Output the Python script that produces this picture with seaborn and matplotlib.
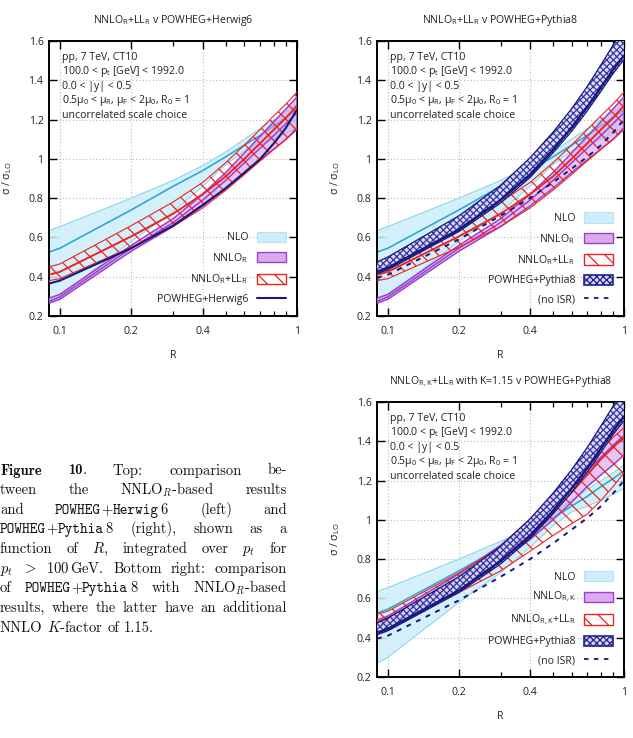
import matplotlib
matplotlib.use("Agg")
import matplotlib.pyplot as plt
import seaborn as sns
from matplotlib.patches import Patch
from matplotlib.lines import Line2D
from matplotlib.ticker import FixedLocator, FixedFormatter, NullFormatter

# --- data ---
R = [0.09, 0.1, 0.2, 0.3, 0.4, 0.5, 0.6, 0.7, 0.8, 0.9, 1.0]

nlo_lo = [0.27, 0.30, 0.58, 0.73, 0.86, 0.97, 1.04, 1.07, 1.10, 1.13, 1.16]
nlo_mid = [0.525, 0.545, 0.74, 0.86, 0.94, 1.01, 1.07, 1.12, 1.17, 1.21, 1.25]
nlo_hi = [0.635, 0.655, 0.80, 0.89, 0.965, 1.035, 1.10, 1.155, 1.20, 1.24, 1.28]

nnlo_lo = [0.265, 0.285, 0.53, 0.655, 0.76, 0.85, 0.93, 0.995, 1.05, 1.10, 1.15]
nnlo_mid = [0.275, 0.297, 0.545, 0.675, 0.79, 0.89, 0.98, 1.055, 1.12, 1.18, 1.235]
nnlo_hi = [0.29, 0.31, 0.56, 0.695, 0.82, 0.93, 1.03, 1.115, 1.19, 1.255, 1.315]

ll_lo = [0.38, 0.39, 0.55, 0.655, 0.75, 0.84, 0.92, 0.99, 1.05, 1.10, 1.16]
ll_mid = [0.41, 0.425, 0.605, 0.72, 0.82, 0.91, 1.00, 1.08, 1.15, 1.21, 1.27]
ll_hi = [0.45, 0.465, 0.66, 0.78, 0.88, 0.98, 1.07, 1.15, 1.22, 1.28, 1.34]

herwig = [0.365, 0.38, 0.545, 0.66, 0.765, 0.85, 0.93, 1.00, 1.08, 1.16, 1.25]

py_lo = [0.415, 0.435, 0.63, 0.775, 0.905, 1.03, 1.14, 1.245, 1.345, 1.435, 1.505]
py_mid = [0.425, 0.445, 0.64, 0.79, 0.92, 1.045, 1.16, 1.265, 1.365, 1.455, 1.525]
py_hi = [0.475, 0.50, 0.71, 0.865, 1.005, 1.135, 1.255, 1.37, 1.48, 1.58, 1.67]
no_isr = [0.395, 0.41, 0.59, 0.71, 0.80, 0.88, 0.95, 1.01, 1.07, 1.135, 1.20]

nnlok_lo = [0.455, 0.47, 0.655, 0.79, 0.90, 1.00, 1.09, 1.17, 1.23, 1.28, 1.33]
nnlok_mid = [0.47, 0.49, 0.69, 0.83, 0.95, 1.06, 1.16, 1.25, 1.32, 1.38, 1.43]
nnlok_hi = [0.49, 0.51, 0.725, 0.87, 1.00, 1.12, 1.23, 1.32, 1.40, 1.47, 1.53]

llk_lo = [0.455, 0.47, 0.63, 0.74, 0.84, 0.92, 0.98, 1.03, 1.10, 1.17, 1.24]
llk_mid = [0.48, 0.50, 0.69, 0.81, 0.93, 1.04, 1.14, 1.23, 1.31, 1.37, 1.42]
llk_hi = [0.52, 0.535, 0.73, 0.86, 0.98, 1.09, 1.19, 1.28, 1.36, 1.42, 1.47]

XTICKS = [0.1, 0.2, 0.4, 1.0]
XTICKLABELS = ["0.1", "0.2", "0.4", "1"]
XMINOR = [0.3, 0.5, 0.6, 0.7, 0.8, 0.9]
YTICKS = [0.2, 0.4, 0.6, 0.8, 1.0, 1.2, 1.4, 1.6]
YTICKLABELS = ["0.2", "0.4", "0.6", "0.8", "1", "1.2", "1.4", "1.6"]

INFO = ["pp, 7 TeV, CT10",
        r"100.0 < p$_\mathrm{t}$ [GeV] < 1992.0",
        "0.0 < |y| < 0.5",
        r"0.5μ$_0$ < μ$_\mathrm{R}$, μ$_\mathrm{F}$ < 2μ$_0$, R$_0$ = 1",
        "uncorrelated scale choice"]

# colours
C_NLO_FILL, C_NLO_EDGE, C_NLO_LINE = "#cdeefa", "#8fd6ee", "#2fa9d2"
C_NN_FILL, C_NN_EDGE = "#d3a2ea", "#9b3fcc"
C_RED = "#ee2222"
C_NAVY = "#17177f"

sns.set_theme(style="ticks")
plt.rcParams["font.family"] = ["Open Sans", "DejaVu Sans"]
plt.rcParams["mathtext.fontset"] = "custom"
plt.rcParams["mathtext.rm"] = "Open Sans"
plt.rcParams["mathtext.it"] = "Open Sans:italic"
plt.rcParams["mathtext.bf"] = "Open Sans:bold"
plt.rcParams["hatch.linewidth"] = 0.9

FS = 7.6


def line(ax, y, color, lw, ls="-", z=3):
    sns.lineplot(x=R, y=y, ax=ax, color=color, lw=lw, linestyle=ls,
                 legend=False, zorder=z)


def setup_axes(ax, title):
    ax.set_xscale("log")
    ax.set_xlim(0.09, 1.0)
    ax.set_ylim(0.2, 1.6)
    ax.xaxis.set_major_locator(FixedLocator(XTICKS))
    ax.xaxis.set_major_formatter(FixedFormatter(XTICKLABELS))
    ax.xaxis.set_minor_locator(FixedLocator(XMINOR))
    ax.xaxis.set_minor_formatter(NullFormatter())
    ax.yaxis.set_major_locator(FixedLocator(YTICKS))
    ax.yaxis.set_major_formatter(FixedFormatter(YTICKLABELS))
    ax.grid(True, which="major", color="#b8b8b8", ls=(0, (1, 2)), lw=0.8)
    ax.tick_params(which="both", direction="in", top=True, right=True,
                   color="black", labelsize=FS, labelcolor="#222222")
    ax.tick_params(which="major", length=6, width=1.0)
    ax.tick_params(axis="x", which="major", pad=7)
    ax.tick_params(axis="y", which="major", pad=4)
    ax.tick_params(which="minor", length=3.5, width=0.9)
    for s in ax.spines.values():
        s.set_color("black")
        s.set_linewidth(1.4)
    ax.set_xlabel("R", fontsize=FS, color="#222222")
    ax.set_ylabel(r"σ / σ$_\mathrm{LO}$", fontsize=FS, color="#222222")
    ax.xaxis.set_label_coords(0.5, -0.124)
    ax.yaxis.set_label_coords(-0.14, 0.5)
    ax.text(0.5, 1.076, title, transform=ax.transAxes, ha="center",
            va="center", fontsize=FS, color="#222222")
    for i, s in enumerate(INFO):
        ax.text(0.052, (316 - (57.3 + 14.5 * i)) / 275, s,
                transform=ax.transAxes, ha="left", va="center",
                fontsize=FS, color="#222222")


def draw_panel(ax, kind):
    # NLO
    ax.fill_between(R, nlo_lo, nlo_hi, facecolor=C_NLO_FILL, edgecolor="none",
                    alpha=0.85, zorder=1)
    line(ax, nlo_lo, C_NLO_EDGE, 0.8, z=2)
    line(ax, nlo_hi, C_NLO_EDGE, 0.8, z=2)
    line(ax, nlo_mid, C_NLO_LINE, 1.2, z=2)

    if kind == "k":
        n_lo, n_mid, n_hi = nnlok_lo, nnlok_mid, nnlok_hi
        l_lo, l_mid, l_hi = llk_lo, llk_mid, llk_hi
    else:
        n_lo, n_mid, n_hi = nnlo_lo, nnlo_mid, nnlo_hi
        l_lo, l_mid, l_hi = ll_lo, ll_mid, ll_hi

    ax.fill_between(R, n_lo, n_hi, facecolor=C_NN_FILL, edgecolor="none",
                    alpha=0.6, zorder=3)
    line(ax, n_lo, C_NN_EDGE, 1.1, z=4)
    line(ax, n_hi, C_NN_EDGE, 1.1, z=4)
    line(ax, n_mid, C_NN_EDGE, 1.1, z=4)

    ax.fill_between(R, l_lo, l_hi, facecolor="none", edgecolor=C_RED,
                    hatch="\\\\", lw=0, zorder=5)
    line(ax, l_lo, C_RED, 0.8, z=6)
    line(ax, l_hi, C_RED, 0.8, z=6)
    line(ax, l_mid, C_RED, 1.4, z=6)

    if kind == "herwig":
        line(ax, herwig, C_NAVY, 1.5, z=8)
        return

    ax.fill_between(R, py_lo, py_hi, facecolor="#d6d6fa", edgecolor="#25258f",
                    hatch="xxxxx", lw=0, alpha=0.9, zorder=7)
    line(ax, py_lo, C_NAVY, 0.9, z=8)
    line(ax, py_hi, C_NAVY, 0.9, z=8)
    line(ax, py_mid, C_NAVY, 1.8, z=8)
    line(ax, no_isr, C_NAVY, 1.4, ls=(0, (2.5, 3)), z=9)


def add_legend(ax, kind):
    sub = r"$_{\mathrm{R,K}}$" if kind == "k" else r"$_\mathrm{R}$"
    handles = [Patch(facecolor=C_NLO_FILL, edgecolor="#b5e4f4", lw=0.8),
               Patch(facecolor="#dba9ee", edgecolor=C_NN_EDGE, lw=1.0),
               Patch(facecolor="white", edgecolor=C_RED, hatch="\\\\", lw=1.0)]
    labels = ["NLO", "NNLO" + sub, "NNLO" + sub + r"+LL$_\mathrm{R}$"]
    if kind == "herwig":
        handles.append(Line2D([], [], color=C_NAVY, lw=1.5))
        labels.append("POWHEG+Herwig6")
    else:
        handles.append(Patch(facecolor="#d6d6fa", edgecolor="#22228a",
                             hatch="xxxxx", lw=1.2))
        handles.append(Line2D([], [], color=C_NAVY, lw=1.3, ls=(0, (2.5, 3))))
        labels += ["POWHEG+Pythia8", "(no ISR)"]
    leg = ax.legend(handles, labels, loc="lower right", frameon=False,
                    markerfirst=False, fontsize=FS, handlelength=2.8,
                    handleheight=1.1, labelspacing=0.72, handletextpad=0.8,
                    borderaxespad=0.6)
    for t in leg.get_texts():
        t.set_color("#222222")


fig = plt.figure(figsize=(6.33, 7.38), dpi=100)
W, H = 633.0, 738.0
ax1 = fig.add_axes([49 / W, 1 - 316 / H, 248 / W, 275 / H])
ax2 = fig.add_axes([377 / W, 1 - 316 / H, 247 / W, 275 / H])
ax3 = fig.add_axes([377 / W, 1 - 677 / H, 247 / W, 275 / H])

panels = [(ax1, "herwig", r"NNLO$_\mathrm{R}$+LL$_\mathrm{R}$ v POWHEG+Herwig6"),
          (ax2, "pythia", r"NNLO$_\mathrm{R}$+LL$_\mathrm{R}$ v POWHEG+Pythia8"),
          (ax3, "k", r"NNLO$_{\mathrm{R,K}}$+LL$_\mathrm{R}$ with K=1.15 v POWHEG+Pythia8")]
for ax, kind, title in panels:
    draw_panel(ax, kind)
    setup_axes(ax, title)
    add_legend(ax, kind)

# --- caption (justified, LaTeX-like) ---
RM, BF, TT = "cmr10", "cmb10", "cmtt10"
CAPTION = [
    [[("Figure", BF)], [("10", BF), (".", RM)], [("Top:", RM)],
     [("comparison", RM)], [("be-", RM)]],
    [[("tween", RM)], [("the", RM)], [(r"NNLO$_R$-based", RM)], [("results", RM)]],
    [[("and", RM)], [("POWHEG", TT), ("+", RM), ("Herwig", TT), (r"$\,$6", RM)],
     [("(left)", RM)], [("and", RM)]],
    [[("POWHEG", TT), ("+", RM), ("Pythia", TT), (r"$\,$8", RM)],
     [("(right),", RM)], [("shown", RM)], [("as", RM)], [("a", RM)]],
    [[("function", RM)], [("of", RM)], [("$R$,", RM)], [("integrated", RM)],
     [("over", RM)], [("$p_t$", RM)], [("for", RM)]],
    [[("$p_t$", RM)], [("$>$", RM)], [(r"100$\,$GeV.", RM)], [("Bottom", RM)],
     [("right:", RM)], [("comparison", RM)]],
    [[("of", RM)], [("POWHEG", TT), ("+", RM), ("Pythia", TT), (r"$\,$8", RM)],
     [("with", RM)], [(r"NNLO$_R$-based", RM)]],
    [[("results,", RM)], [("where", RM)], [("the", RM)], [("latter", RM)],
     [("have", RM)], [("an", RM)], [("additional", RM)]],
    [[("NNLO", RM)], [("$K$-factor", RM)], [("of", RM)], [("1.15.", RM)]],
]
CAP_FS = 10.5
renderer = fig.canvas.get_renderer()
x0_px, x1_px = 0.0, 287.0
for i, words in enumerate(CAPTION):
    y = 1 - (474.5 + 19.65 * i) / H
    items = []
    for w in words:
        parts = []
        for s, fam in w:
            t = fig.text(0, y, s, family=fam, fontsize=CAP_FS, va="baseline",
                         ha="left", color="#111111", math_fontfamily="cm")
            parts.append((t, t.get_window_extent(renderer).width))
        items.append(parts)
    total = sum(wd for parts in items for _, wd in parts)
    if i == len(CAPTION) - 1:
        gap = 4.5
    else:
        gap = (x1_px - x0_px - total) / (len(items) - 1)
    x = x0_px
    for parts in items:
        for t, wd in parts:
            t.set_x(x / W)
            x += wd
        x += gap

fig.savefig("out.png", dpi=100)
